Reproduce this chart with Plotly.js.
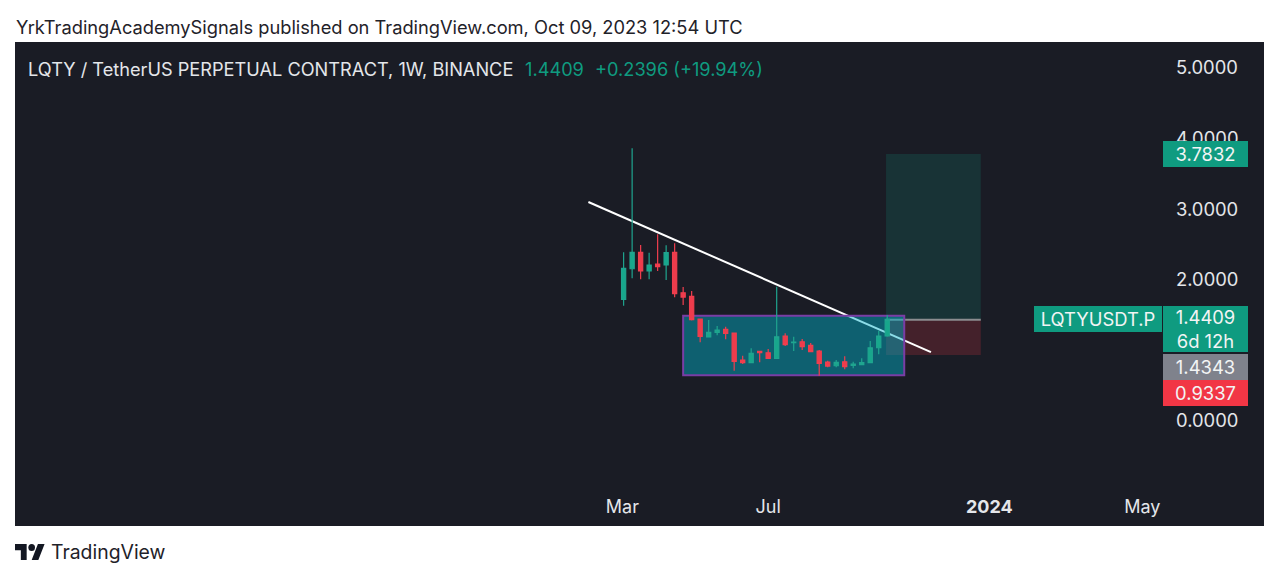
<!DOCTYPE html>
<html>
<head>
<meta charset="utf-8">
<script src="https://cdn.plot.ly/plotly-3.0.0.min.js"></script>
<style>html,body{margin:0;padding:0;background:#fff}#c{width:1280px;height:580px}</style>
</head>
<body>
<div id="c"></div>
<script>
const dates = ['2023-03-06','2023-03-13','2023-03-20','2023-03-27','2023-04-03','2023-04-10','2023-04-17','2023-04-24','2023-05-01','2023-05-08','2023-05-15','2023-05-22','2023-05-29','2023-06-05','2023-06-12','2023-06-19','2023-06-26','2023-07-03','2023-07-10','2023-07-17','2023-07-24','2023-07-31','2023-08-07','2023-08-14','2023-08-21','2023-08-28','2023-09-04','2023-09-11','2023-09-18','2023-09-25','2023-10-02','2023-10-09'];
const opens = [1.724,2.157,2.390,2.125,2.224,2.210,2.390,1.817,1.766,1.445,1.190,1.256,1.299,1.246,0.864,0.826,0.987,0.967,0.888,1.204,1.109,1.123,1.072,0.992,0.836,0.783,0.840,0.789,0.797,0.826,1.038,1.204];
const highs = [2.390,3.863,2.493,2.384,2.645,2.489,2.517,1.898,1.841,1.445,1.431,1.346,1.336,1.254,0.925,1.030,0.996,1.020,1.902,1.242,1.194,1.161,1.105,1.006,0.854,0.864,0.916,0.840,0.888,1.133,1.279,1.501];
const lows = [1.633,2.021,2.007,2.007,2.125,1.997,1.752,1.643,1.424,1.115,1.183,1.214,1.157,0.712,0.807,0.822,0.831,0.881,0.881,1.062,0.992,1.006,0.977,0.642,0.761,0.761,0.732,0.746,0.789,0.826,0.945,1.194];
const closes = [2.163,2.390,2.125,2.210,2.186,2.384,1.803,1.756,1.435,1.200,1.256,1.289,1.242,0.846,0.826,0.959,0.967,0.888,1.194,1.081,1.119,1.052,0.982,0.817,0.779,0.831,0.769,0.807,0.826,1.038,1.204,1.4409];

const trendDates = ['2023-02-05','2023-11-14'];
const trendValues = [3.102,0.977];
const rangeDates = ['2023-04-24','2023-10-23'];
const rangeValues = [0.647,1.492];
const positionDates = ['2023-10-08','2023-12-25'];
const targetPrice = 3.7832, entryPrice = 1.4343, stopPrice = 0.9337, lastPrice = 1.4409;

const xTickDates = ['2023-03-05','2023-07-03','2024-01-01','2024-05-06'];
const xTickLabels = ['Mar','Jul','<b>2024</b>','May'];
const yTickValues = [0,2,3,4,5];

const FONT = 'Inter, "Noto Sans", sans-serif';
const GREEN = '#0f9b80', RED = '#f23645', BG = '#1a1c25', TXT = '#e4e6ea';

const candles = {
  type:'candlestick', x:dates, open:opens, high:highs, low:lows, close:closes,
  increasing:{line:{color:'#1fa58f',width:1.2},fillcolor:'#17a78c'},
  decreasing:{line:{color:'#f03e4e',width:1.2},fillcolor:'#ee3c4c'},
  whiskerwidth:0, width:4.6*864e5, hoverinfo:'skip', showlegend:false
};

function tag(text,y,yshift,bg,opts){
  return Object.assign({xref:'paper',yref:'y',x:1,y:y,yshift:yshift,xanchor:'left',yanchor:'middle',
    text:text,showarrow:false,bgcolor:bg,width:85,height:26,borderpad:0,borderwidth:0,align:'center',
    font:{family:FONT,size:18.4,color:'#f2f4f4'}},opts||{});
}
function label(text,px,py,color,size){
  return {xref:'paper',yref:'paper',x:(px-15)/1148,y:(486-py)/444,xanchor:'left',yanchor:'middle',
    text:text,showarrow:false,font:{family:FONT,size:size||18,color:color},borderpad:0};
}

const layout = {
  width:1280,height:580,autosize:false,
  margin:{l:15,r:117,t:42,b:94,pad:0},
  paper_bgcolor:'#ffffff',plot_bgcolor:BG,showlegend:false,dragmode:false,
  xaxis:{type:'date',range:['2021-10-21','2024-05-23'],rangeslider:{visible:false},
    tickmode:'array',tickvals:xTickDates,ticktext:xTickLabels,showgrid:false,zeroline:false,showline:false,
    ticks:'',ticklabelstandoff:8,tickfont:{family:FONT,size:18,color:TXT}},
  yaxis:{side:'right',range:[-0.92,5.368],tickmode:'array',tickvals:yTickValues,tickformat:'.4f',
    showgrid:false,zeroline:false,showline:false,ticks:'',ticklabelstandoff:12,
    tickfont:{family:FONT,size:18.4,color:TXT}},
  shapes:[
    {type:'rect',xref:'paper',yref:'paper',x0:0,x1:1249/1148,y0:-40/444,y1:1,layer:'below',line:{width:0},fillcolor:BG},
    {type:'rect',xref:'x',yref:'y',x0:positionDates[0],x1:positionDates[1],y0:entryPrice,y1:targetPrice,layer:'below',line:{width:0},fillcolor:'rgba(15,155,128,0.19)'},
    {type:'rect',xref:'x',yref:'y',x0:positionDates[0],x1:positionDates[1],y0:stopPrice,y1:entryPrice,layer:'below',line:{width:0},fillcolor:'rgba(242,54,69,0.2)'},
    {type:'line',xref:'x',yref:'y',x0:positionDates[0],x1:positionDates[1],y0:entryPrice,y1:entryPrice,layer:'below',line:{width:2,color:'#8b8d90'}},
    {type:'line',xref:'x',yref:'y',x0:trendDates[0],x1:trendDates[1],y0:trendValues[0],y1:trendValues[1],layer:'below',line:{width:2,color:'#ffffff'}},
    {type:'rect',xref:'x',yref:'y',x0:rangeDates[0],x1:rangeDates[1],y0:rangeValues[0],y1:rangeValues[1],layer:'below',line:{width:2,color:'#7a3da5'},fillcolor:'rgba(0,180,205,0.45)'}
  ],
  images:[{source:'data:image/svg+xml;utf8,'+encodeURIComponent('<svg xmlns="http://www.w3.org/2000/svg" viewBox="0 4 36 18"><path fill="#131722" d="M14 22H7V11H0V4h14v18zM28 22h-8l7.5-18h8L28 22z"/><circle fill="#131722" cx="20" cy="8" r="4"/></svg>'),
    xref:'paper',yref:'paper',x:0,y:(486-544)/444,sizex:30/1148,sizey:16/444,xanchor:'left',yanchor:'top',sizing:'stretch',layer:'above'}],
  annotations:[
    label('YrkTradingAcademySignals published on TradingView.com, Oct 09, 2023 12:54 UTC',15,27,'#1f2229',18.27),
    label('LQTY / TetherUS PERPETUAL CONTRACT, 1W, BINANCE',27,69,TXT,18.2),
    label(lastPrice.toFixed(4),524,69,'#0f9b80',18.2),
    label('+0.2396 (+19.94%)',594,69,'#0f9b80',18.2),
    label('TradingView',50,552,'#1f2229',19.4),
    tag(targetPrice.toFixed(4),targetPrice,0,GREEN),
    tag(lastPrice.toFixed(4)+'<br>6d 12h',lastPrice,-10,GREEN,{height:46}),
    tag(entryPrice.toFixed(4),entryPrice,-47,'#7f828c'),
    tag(stopPrice.toFixed(4),stopPrice,-38,RED),
    tag('LQTYUSDT.P',lastPrice,0,GREEN,{xanchor:'right',width:128,height:26,x:0.999})
  ]
};
Plotly.newPlot('c',[candles],layout,{staticPlot:true,displayModeBar:false});
</script>
</body>
</html>
